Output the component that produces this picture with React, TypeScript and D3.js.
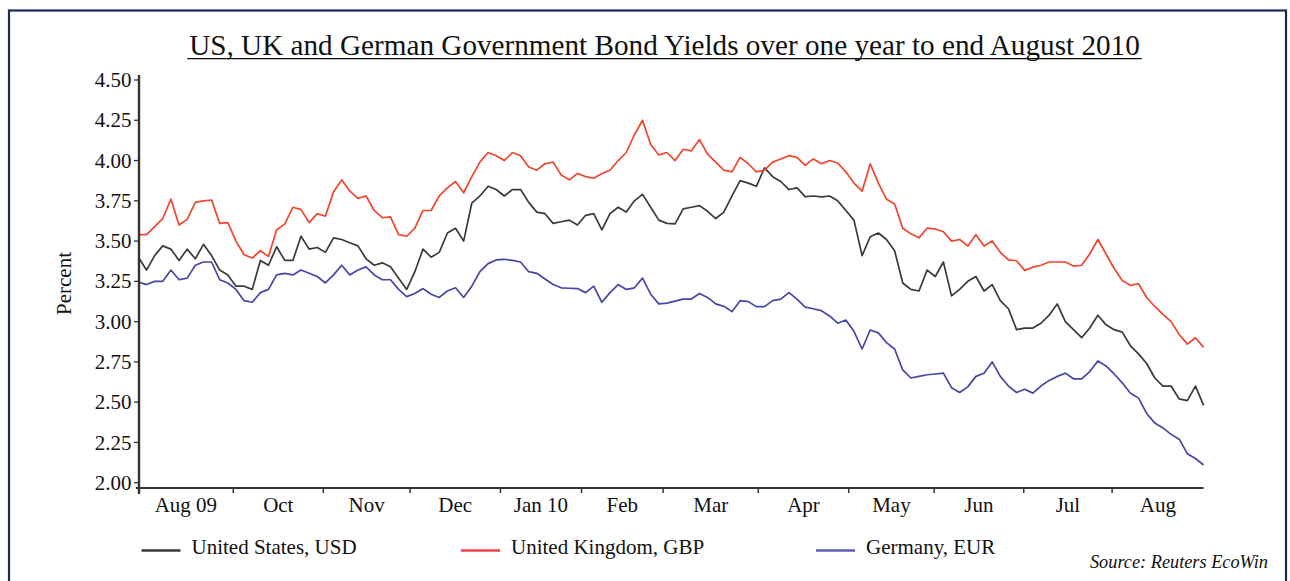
import React from 'react';
import * as d3 from 'd3';

// Values sampled roughly every two trading days, end Aug 2009 to end Aug 2010
const usd = [
  3.40, 3.32, 3.41, 3.47, 3.45, 3.38, 3.45, 3.39, 3.48, 3.41, 3.32, 3.29, 3.22, 3.22, 3.20, 3.38, 3.35, 3.465, 3.38, 3.38,
  3.53, 3.45, 3.46, 3.43, 3.52, 3.51, 3.49, 3.47, 3.39, 3.35, 3.365, 3.34, 3.27, 3.20, 3.31, 3.45, 3.40, 3.43, 3.55, 3.58,
  3.50, 3.735, 3.78, 3.84, 3.82, 3.78, 3.82, 3.82, 3.74, 3.68, 3.67, 3.61, 3.62, 3.63, 3.60, 3.66, 3.67, 3.57, 3.67, 3.71,
  3.68, 3.75, 3.79, 3.71, 3.63, 3.61, 3.607, 3.70, 3.71, 3.72, 3.685, 3.64, 3.68, 3.78, 3.875, 3.86, 3.84, 3.955, 3.90, 3.87,
  3.82, 3.83, 3.776, 3.78, 3.775, 3.78, 3.75, 3.69, 3.63, 3.41, 3.527, 3.55, 3.51, 3.44, 3.24, 3.20, 3.19, 3.32, 3.28, 3.37,
  3.16, 3.20, 3.25, 3.28, 3.19, 3.23, 3.13, 3.08, 2.95, 2.96, 2.96, 2.99, 3.04, 3.11, 3.00, 2.95, 2.90, 2.96, 3.04, 2.98,
  2.95, 2.935, 2.85, 2.80, 2.74, 2.65, 2.60, 2.60, 2.52, 2.51, 2.60, 2.48,
];
const gbp = [
  3.54, 3.54, 3.59, 3.64, 3.76, 3.60, 3.635, 3.74, 3.75, 3.755, 3.61, 3.615, 3.50, 3.415, 3.395, 3.44, 3.405, 3.57, 3.605, 3.71,
  3.695, 3.615, 3.67, 3.655, 3.805, 3.88, 3.81, 3.765, 3.78, 3.69, 3.645, 3.65, 3.54, 3.53, 3.58, 3.69, 3.69, 3.78, 3.83, 3.87,
  3.80, 3.90, 3.99, 4.05, 4.03, 4.00, 4.05, 4.03, 3.96, 3.94, 3.98, 3.99, 3.91, 3.88, 3.92, 3.90, 3.89, 3.92, 3.94, 4.00,
  4.05, 4.16, 4.25, 4.10, 4.035, 4.05, 4.00, 4.07, 4.06, 4.13, 4.04, 3.99, 3.94, 3.93, 4.02, 3.98, 3.93, 3.94, 3.99, 4.01,
  4.03, 4.02, 3.97, 4.01, 3.98, 4.00, 3.985, 3.93, 3.86, 3.81, 3.98, 3.86, 3.76, 3.73, 3.58, 3.545, 3.52, 3.58, 3.575, 3.558,
  3.50, 3.51, 3.47, 3.54, 3.47, 3.50, 3.43, 3.383, 3.378, 3.318, 3.338, 3.35, 3.37, 3.37, 3.37, 3.345, 3.35, 3.42, 3.51, 3.42,
  3.33, 3.255, 3.225, 3.235, 3.15, 3.094, 3.045, 3.00, 2.92, 2.86, 2.90, 2.84,
];
const eur = [
  3.245, 3.23, 3.25, 3.25, 3.32, 3.26, 3.27, 3.35, 3.37, 3.37, 3.26, 3.24, 3.20, 3.13, 3.12, 3.18, 3.20, 3.29, 3.30, 3.29,
  3.32, 3.30, 3.28, 3.24, 3.29, 3.35, 3.29, 3.32, 3.34, 3.29, 3.26, 3.26, 3.20, 3.155, 3.175, 3.205, 3.17, 3.15, 3.19, 3.21,
  3.15, 3.22, 3.31, 3.36, 3.383, 3.387, 3.38, 3.37, 3.31, 3.30, 3.265, 3.23, 3.21, 3.207, 3.205, 3.18, 3.22, 3.12, 3.18, 3.23,
  3.20, 3.21, 3.27, 3.17, 3.11, 3.115, 3.127, 3.14, 3.14, 3.175, 3.15, 3.11, 3.095, 3.062, 3.13, 3.124, 3.093, 3.093, 3.13, 3.14,
  3.18, 3.14, 3.09, 3.08, 3.068, 3.035, 2.99, 3.01, 2.94, 2.83, 2.948, 2.93, 2.87, 2.83, 2.70, 2.65, 2.66, 2.67, 2.675, 2.68,
  2.59, 2.56, 2.595, 2.66, 2.68, 2.75, 2.66, 2.60, 2.56, 2.58, 2.556, 2.60, 2.635, 2.66, 2.68, 2.645, 2.645, 2.69, 2.756, 2.725,
  2.675, 2.62, 2.555, 2.525, 2.43, 2.37, 2.34, 2.30, 2.27, 2.18, 2.15, 2.11,
];

const yTicks = [2.0, 2.25, 2.5, 2.75, 3.0, 3.25, 3.5, 3.75, 4.0, 4.25, 4.5];
const monthLabels = ['Aug 09', 'Oct', 'Nov', 'Dec', 'Jan 10', 'Feb', 'Mar', 'Apr', 'May', 'Jun', 'Jul', 'Aug'];
// month boundaries in sample-index units
const monthBounds = [0, 11.67, 22.74, 33.41, 44.52, 54.5, 64.53, 76.24, 87.36, 97.86, 108.88, 119.75, 131];

const seriesNames = ['United States, USD', 'United Kingdom, GBP', 'Germany, EUR'];
const title = 'US, UK and German Government Bond Yields over one year to end August 2010';
const source = 'Source: Reuters EcoWin';

const FONT = '"Liberation Serif", "Times New Roman", Times, serif';

export default function App() {
  const W = 1290;
  const H = 581;
  const x = d3.scaleLinear().domain([0, usd.length - 1]).range([138.4, 1203.6]);
  const y = d3.scaleLinear().domain([2, 4.5]).range([482.7, 80]);
  const line = d3
    .line<number>()
    .x((_, i) => x(i))
    .y((d) => y(d));

  const series = [
    { name: seriesNames[0], data: usd, color: '#3a3a3a', legend: '#3a3a3a' },
    { name: seriesNames[1], data: gbp, color: '#f0452f', legend: '#f2404e' },
    { name: seriesNames[2], data: eur, color: '#4646a6', legend: '#5f5fb5' },
  ];
  const legendX = [141.5, 461, 816];

  const axisY = 488;
  const axisX = 139;

  return (
    <svg
      width={W}
      height={H}
      style={{ position: 'absolute', left: 0, top: 0, background: '#fff' }}
      fontFamily={FONT}
    >
      <rect x={0} y={0} width={W} height={H} fill="#fff" />
      {/* frame */}
      <rect x={9} y={10.5} width={1277} height={620} fill="none" stroke="#1b2858" strokeWidth={2.2} />

      {/* title */}
      <text x={664.5} y={55} textAnchor="middle" fontSize={29.2} fill="#111">
        {title}
      </text>
      <line x1={187.3} x2={1141.7} y1={58.6} y2={58.6} stroke="#111" strokeWidth={1.4} />

      {/* series lines */}
      {series.map((s) => (
        <path
          key={s.name}
          d={line(s.data) || ''}
          fill="none"
          stroke={s.color}
          strokeWidth={1.7}
          strokeLinejoin="round"
        />
      ))}

      {/* y axis */}
      <line x1={axisX} x2={axisX} y1={75} y2={494} stroke="#333" strokeWidth={2.4} />
      {yTicks.map((t) => (
        <g key={t}>
          <line x1={axisX - 5} x2={axisX} y1={y(t)} y2={y(t)} stroke="#333" strokeWidth={1.3} />
          <text
            x={131.5}
            y={y(t)}
            dy="0.34em"
            textAnchor="end"
            fontSize={21}
            fill="#111"
          >
            {t.toFixed(2)}
          </text>
        </g>
      ))}
      <text
        transform={`translate(71,283.5) rotate(-90)`}
        textAnchor="middle"
        fontSize={21}
        fill="#111"
      >
        Percent
      </text>

      {/* x axis */}
      <line x1={136} x2={x(monthBounds[monthBounds.length - 1])} y1={axisY} y2={axisY} stroke="#333" strokeWidth={2.2} />
      {monthBounds.slice(1, -1).map((b) => (
        <line key={b} x1={x(b)} x2={x(b)} y1={axisY} y2={axisY + 5} stroke="#333" strokeWidth={1.5} />
      ))}
      {monthLabels.map((m, i) => (
        <text
          key={m}
          x={(x(monthBounds[i]) + x(monthBounds[i + 1])) / 2}
          y={512}
          textAnchor="middle"
          fontSize={21}
          fill="#111"
        >
          {m}
        </text>
      ))}

      {/* legend */}
      {series.map((s, i) => (
        <g key={s.name}>
          <line
            x1={legendX[i]}
            x2={legendX[i] + 39}
            y1={550.5}
            y2={550.5}
            stroke={s.legend}
            strokeWidth={2.6}
          />
          <text x={legendX[i] + 50} y={554} fontSize={21} fill="#111">
            {s.name}
          </text>
        </g>
      ))}

      <text x={1268} y={568} textAnchor="end" fontSize={18.3} fontStyle="italic" fill="#111">
        {source}
      </text>
    </svg>
  );
}
